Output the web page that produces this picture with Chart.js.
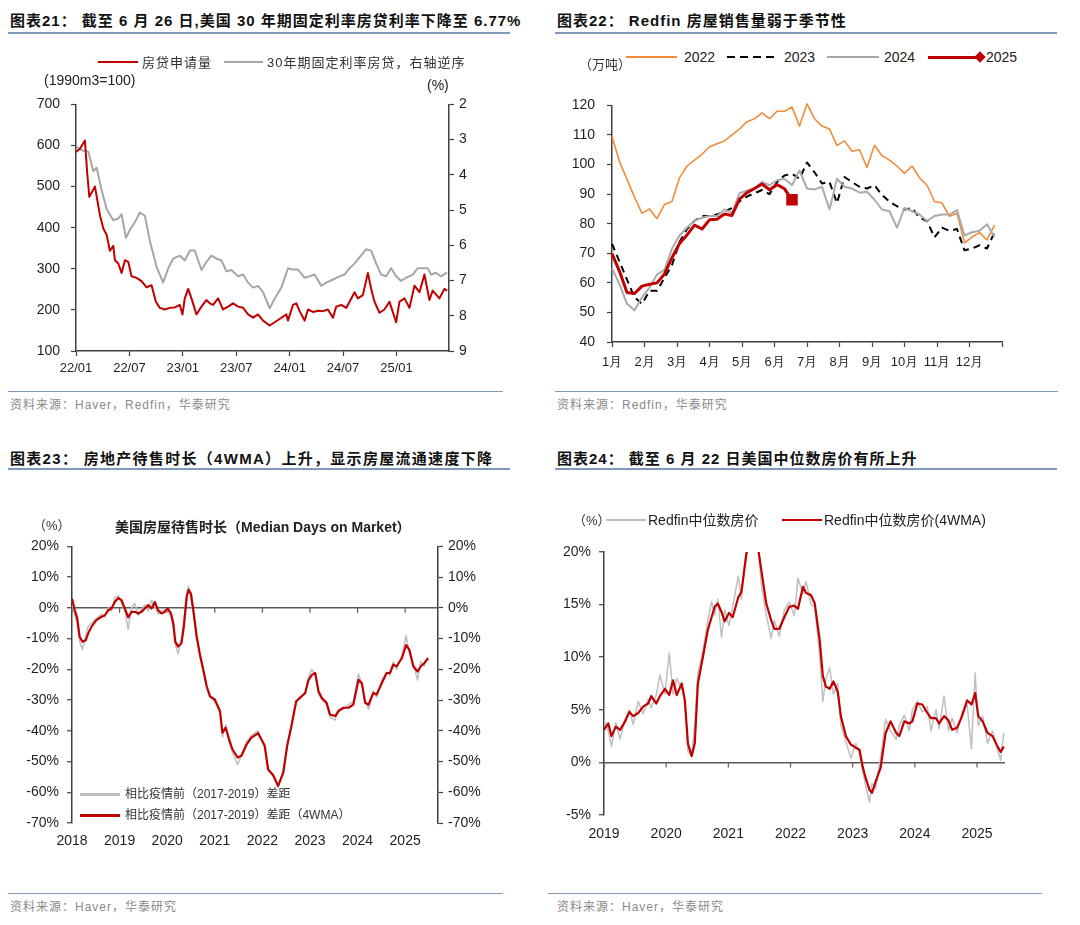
<!DOCTYPE html>
<html>
<head>
<meta charset="utf-8">
<script src="https://cdn.jsdelivr.net/npm/chart.js@4.4.1/dist/chart.umd.min.js"></script>
<style>
  body { margin: 0; width: 1080px; height: 925px; background: #fff; position: relative; overflow: hidden;
         font-family: "Liberation Sans", "Noto Sans CJK SC", sans-serif; color: #222; }
  .t { position: absolute; white-space: nowrap; line-height: 1; }
  .title { font-weight: bold; font-size: 15px; letter-spacing: 1px; color: #111; }
  .rule { position: absolute; height: 2px; background: #8099bb; }
  .srule { position: absolute; height: 1px; background: #8099bb; }
  .src { font-size: 12px; color: #8a8a8a; letter-spacing: 1px; }
  .lg { font-size: 13px; color: #333; }
  .ln { position: absolute; height: 2px; }
  canvas { position: absolute; }
</style>
</head>
<body>
<canvas id="c1" width="540" height="300" style="left:0;top:85px"></canvas>
<canvas id="c2" width="540" height="300" style="left:540px;top:85px"></canvas>
<canvas id="c3" width="540" height="330" style="left:0;top:530px"></canvas>
<canvas id="c4" width="540" height="320" style="left:540px;top:530px"></canvas>

<!-- panel 21 -->
<div class="t title" style="left:10px;top:13px">图表21：&nbsp;截至 6 月 26 日,美国 30 年期固定利率房贷利率下降至 6.77%</div>
<div class="rule" style="left:8px;top:32px;width:502px"></div>
<div class="ln" style="left:98px;top:61px;width:40px;background:#C00000"></div>
<div class="t lg" style="left:142px;top:56px;letter-spacing:1px">房贷申请量</div>
<div class="ln" style="left:224px;top:61px;width:39px;background:#A6A6A6"></div>
<div class="t lg" style="left:267px;top:56px;letter-spacing:1px">30年期固定利率房贷，右轴逆序</div>
<div class="t" style="left:44px;top:73px;font-size:14px">(1990m3=100)</div>
<div class="t" style="left:427px;top:78px;font-size:14px">(%)</div>
<div class="srule" style="left:8px;top:391px;width:495px"></div>
<div class="t src" style="left:10px;top:399px">资料来源：Haver，Redfin，华泰研究</div>

<!-- panel 22 -->
<div class="t title" style="left:557px;top:13px">图表22：&nbsp;Redfin 房屋销售量弱于季节性</div>
<div class="rule" style="left:555px;top:32px;width:502px"></div>
<div class="ln" style="left:626px;top:56px;width:51px;background:#F08C3C"></div>
<div class="t" style="left:684px;top:50px;font-size:14px">2022</div>
<div class="ln" style="left:727px;top:56px;width:50px;background:repeating-linear-gradient(90deg,#000 0 8px,transparent 8px 13px)"></div>
<div class="t" style="left:784px;top:50px;font-size:14px">2023</div>
<div class="ln" style="left:827px;top:56px;width:52px;background:#A6A6A6"></div>
<div class="t" style="left:884px;top:50px;font-size:14px">2024</div>
<div class="ln" style="left:928px;top:56px;width:52px;height:3px;background:#C00000"></div>
<div style="position:absolute;left:976px;top:53px;width:8px;height:8px;background:#C00000;transform:rotate(45deg)"></div>
<div class="t" style="left:986px;top:50px;font-size:14px">2025</div>
<div class="t lg" style="left:579px;top:58px">（万吨）</div>
<div class="srule" style="left:555px;top:391px;width:503px"></div>
<div class="t src" style="left:557px;top:399px">资料来源：Redfin，华泰研究</div>

<!-- panel 23 -->
<div class="t title" style="left:10px;top:451px;letter-spacing:1.3px">图表23：&nbsp;房地产待售时长（4WMA）上升，显示房屋流通速度下降</div>
<div class="rule" style="left:8px;top:468px;width:502px"></div>
<div class="t lg" style="left:33px;top:519px">（%）</div>
<div class="t" style="left:115px;top:520px;font-size:14px;font-weight:bold">美国房屋待售时长（Median Days on Market）</div>
<div class="ln" style="left:80px;top:793px;width:40px;height:2.5px;background:#BFBFBF"></div>
<div class="t" style="left:125px;top:788px;font-size:12px;color:#333">相比疫情前（2017-2019）差距</div>
<div class="ln" style="left:80px;top:814px;width:40px;height:2.5px;background:#C00000"></div>
<div class="t" style="left:125px;top:809px;font-size:12px;color:#333">相比疫情前（2017-2019）差距（4WMA）</div>
<div class="srule" style="left:8px;top:893px;width:495px"></div>
<div class="t src" style="left:10px;top:901px">资料来源：Haver，华泰研究</div>

<!-- panel 24 -->
<div class="t title" style="left:557px;top:451px">图表24：&nbsp;截至 6 月 22 日美国中位数房价有所上升</div>
<div class="rule" style="left:555px;top:468px;width:502px"></div>
<div class="t lg" style="left:573px;top:514px">（%）</div>
<div class="ln" style="left:606px;top:519px;width:40px;background:#BFBFBF"></div>
<div class="t" style="left:648px;top:513px;font-size:14px">Redfin中位数房价</div>
<div class="ln" style="left:782px;top:519px;width:40px;background:#C00000"></div>
<div class="t" style="left:824px;top:513px;font-size:14px">Redfin中位数房价(4WMA)</div>
<div class="srule" style="left:548px;top:893px;width:494px"></div>
<div class="t src" style="left:557px;top:901px">资料来源：Haver，华泰研究</div>

<script>
// --- chart 21: mortgage applications vs 30y fixed rate (x = months since 2022-01)
const c1Labels = ['22/01', '22/07', '23/01', '23/07', '24/01', '24/07', '25/01'];
const appMonth = [0, 0.45, 1, 1.27, 1.5, 2.13, 2.69, 3.07, 3.44, 3.81, 4.19, 4.37, 4.75, 5.12, 5.5, 5.87, 6.24, 6.8, 7.36, 7.93,
  8.49, 8.97, 9.42, 9.98, 10.54, 11.1, 11.66, 11.96, 12.22, 12.6, 12.97, 13.53, 14.09, 14.65, 15.03, 15.4, 15.96, 16.52, 17.08, 17.64,
  18.21, 18.77, 19.33, 19.89, 20.45, 21.01, 21.76, 22.32, 23.07, 23.63, 23.81, 24.37, 24.75, 25.12, 25.68, 26.06, 26.62, 27.18, 27.74, 28.3,
  28.86, 29.23, 29.79, 30.36, 30.73, 31.29, 31.66, 32.22, 32.79, 33.16, 33.53, 34.09, 34.65, 35.21, 35.96, 36.34, 36.9, 37.46, 38.02, 38.58,
  39.14, 39.7, 40.07, 40.82, 41.38, 41.68];
const appIndex = [584, 592, 612, 530, 475, 500, 430, 398, 383, 344, 356, 321, 313, 290, 321, 317, 282, 278, 270, 255,
  260, 220, 205, 201, 205, 206, 212, 189, 228, 251, 228, 189, 208, 224, 216, 212, 228, 201, 208, 216,
  208, 205, 189, 181, 189, 174, 162, 170, 181, 189, 174, 212, 216, 197, 174, 201, 195, 198, 197, 201,
  181, 208, 212, 205, 220, 243, 228, 236, 290, 251, 220, 193, 201, 220, 170, 220, 228, 205, 259, 243,
  286, 224, 247, 228, 251, 247];
const rateMonth = [0, 0.64, 1.38, 1.94, 2.32, 2.88, 3.44, 4.19, 4.75, 5.12, 5.61, 6.06, 6.62, 7.18, 7.74, 8.3, 9.05, 9.79, 10.36, 10.92,
  11.66, 12.22, 12.79, 13.35, 14.09, 14.65, 15.21, 15.78, 16.34, 16.9, 17.46, 18.21, 18.77, 19.33, 19.89, 20.45, 21.01, 21.76, 22.32, 23.07,
  23.81, 24.37, 24.93, 25.68, 26.24, 26.8, 27.55, 28.11, 28.86, 29.61, 30.17, 30.73, 31.29, 31.85, 32.6, 33.16, 33.72, 34.28, 34.84, 35.4,
  35.96, 36.52, 37.08, 37.83, 38.39, 38.95, 39.51, 39.89, 40.45, 41.01, 41.68];
const rateValue = [3.2, 3.3, 3.34, 3.89, 3.8, 4.43, 4.97, 5.29, 5.24, 5.11, 5.79, 5.56, 5.34, 5.07, 5.16, 5.88, 6.61, 7.06, 6.65, 6.38,
  6.29, 6.43, 6.15, 6.15, 6.7, 6.47, 6.29, 6.38, 6.43, 6.74, 6.7, 6.88, 6.83, 7.06, 7.2, 7.15, 7.33, 7.79, 7.51, 7.2,
  6.65, 6.69, 6.69, 6.92, 6.88, 6.83, 7.15, 7.06, 6.97, 6.88, 6.83, 6.65, 6.52, 6.34, 6.11, 6.15, 6.52, 6.83, 6.88, 6.65,
  6.88, 7.01, 6.92, 6.83, 6.65, 6.65, 6.65, 6.83, 6.78, 6.88, 6.77];

// --- chart 22: Redfin weekly sales by year (one value per week)
const monthLabels = ['1月', '2月', '3月', '4月', '5月', '6月', '7月', '8月', '9月', '10月', '11月', '12月'];
const sales2022 = [109.5, 101, 95, 89, 83.5, 85, 81.7, 86.5, 87.5, 95.5, 99.5, 101.5, 103.5, 106, 107, 108, 110, 112, 114.5, 115.5,
  117.5, 115.5, 118, 118, 119.5, 113, 120.5, 115.5, 113, 112, 106.5, 108, 104.5, 105, 99, 106.5, 103, 101.5, 99.5, 97,
  99.5, 95.5, 93, 87.5, 87, 82.5, 83.5, 73.5, 75.5, 77, 74.5, 79.5];
const sales2023 = [73.2, 67.2, 61.1, 55.1, 52.9, 57.3, 57.3, 61.7, 66, 73.8, 78.2, 81, 82.6, 82.6, 83.1, 84.2, 85.3, 87.5, 89.2, 90.3,
  91.4, 90, 94.1, 96.3, 96.9, 95.2, 100.7, 97.4, 93.6, 94.1, 87, 95.8, 94.1, 92.5, 91.9, 93, 89.7, 87.5, 85.9, 84.8,
  85.3, 82, 80.9, 75.4, 78.7, 77.6, 78.2, 71, 71.6, 72.7, 71.6, 77.1];
const sales2024 = [65, 59.5, 52.9, 50.7, 55.1, 58.4, 62.8, 64.4, 71.6, 76, 78.7, 81, 82, 82.6, 82.6, 84.8, 83.7, 90.3, 91.2, 91.9,
  94.1, 93, 94.7, 95.2, 93, 98, 91.9, 91.6, 92.5, 84.8, 95.2, 92.5, 91.9, 90.5, 90.8, 88.1, 84.8, 84.2, 78.7, 85.3,
  84.2, 83.1, 80.9, 82.6, 83.1, 83.1, 84.6, 76, 77.1, 77.6, 79.8, 75.4];
const sales2025 = [69.9, 63.9, 56.7, 56.4, 58.9, 59.5, 60, 63, 68.5, 73.3, 76.2, 79.5, 78.2, 81.3, 81.5, 83.3, 82.8, 88.3, 90.5, 91.9,
  93.4, 91.5, 93.2, 91.8, 88.1];

// --- chart 23: median days on market vs 2017-2019 (x = year)
const domYear = [2018, 2018.06, 2018.11, 2018.16, 2018.22, 2018.29, 2018.34, 2018.41, 2018.51, 2018.62, 2018.69, 2018.76, 2018.83, 2018.9, 2018.97,
  2019.04, 2019.11, 2019.18, 2019.25, 2019.32, 2019.39, 2019.46, 2019.53, 2019.6, 2019.67, 2019.74, 2019.81, 2019.88, 2019.95,
  2020.01, 2020.08, 2020.13, 2020.17, 2020.23, 2020.3, 2020.35, 2020.41, 2020.45, 2020.5, 2020.55, 2020.62, 2020.69, 2020.76, 2020.83, 2020.9,
  2021, 2021.11, 2021.16, 2021.23, 2021.3, 2021.37, 2021.48, 2021.56, 2021.67, 2021.77, 2021.91,
  2022.05, 2022.12, 2022.23, 2022.33, 2022.44, 2022.52, 2022.61, 2022.71, 2022.79, 2022.9, 2022.97,
  2023.04, 2023.11, 2023.18, 2023.25, 2023.35, 2023.42, 2023.53, 2023.6, 2023.7, 2023.81, 2023.91,
  2024.02, 2024.09, 2024.16, 2024.23, 2024.33, 2024.4, 2024.51, 2024.61, 2024.68, 2024.75, 2024.82, 2024.93,
  2025.02, 2025.09, 2025.17, 2025.26, 2025.33, 2025.4, 2025.48];
const domGap = [2, -2.5, -5, -11, -13.5, -9, -6, -5, -3.5, -2, -3, 0, -1, 3.5, 4,
  1.5, -1, -7, 0, 1.5, -2.5, -0.5, 1, -1, 2.5, 0.5, -2, -1, -0.5,
  -1, -3, -7, -12, -15, -10, -4, 5, 7, 3, -2, -10, -16, -21, -26, -29,
  -30.5, -34, -42, -38, -43.5, -47, -51, -48, -43.5, -41.5, -40,
  -45.5, -53, -54, -58.5, -52.5, -45.5, -38, -31, -29, -28, -22.5,
  -20, -22, -28, -30, -31.5, -35.5, -36.5, -33, -33, -31.5, -30.5,
  -21.5, -25, -30, -33, -27, -29, -23.5, -21, -22, -17.5, -20, -15.5,
  -9, -15, -18, -23.5, -17.5, -19, -16];
const domGap4w = [3, -0.8, -3.4, -9.4, -11, -10.5, -8.3, -6.1, -4, -2.9, -2.4, -0.8, -0.2, 1.9, 3.2,
  2.5, -0.2, -3.1, -1.3, -1.3, -1.8, -1.3, -0.2, 0.9, -0.2, 1.9, -0.8, -1.8, -1.3,
  -0.2, -1.8, -5.1, -11, -12.6, -11.5, -6.1, 3.6, 5.9, 4.6, -0.8, -9.4, -15.3, -20.2, -25.5, -28.8,
  -29.8, -33.6, -40.6, -39, -42.8, -46, -48.7, -48.1, -44.4, -42.2, -40.8,
  -44.9, -52.5, -54.6, -57.9, -53.6, -44.9, -38.5, -30.4, -29.3, -27.7, -23.4,
  -21.8, -21.2, -27.2, -29.3, -30.9, -34.7, -35.2, -33.6, -32.5, -32.5, -31.5,
  -23.4, -24.5, -30.9, -31.5, -27.7, -28.2, -24.5, -21.2, -21.2, -18.5, -19, -16.4,
  -12.1, -13.7, -19, -20.7, -19, -18, -16.4];

// --- chart 24: Redfin median sale price yoy (x = year)
const priceYear = [2019, 2019.07, 2019.12, 2019.19, 2019.26, 2019.34, 2019.41, 2019.47, 2019.55, 2019.63, 2019.71, 2019.76, 2019.84, 2019.9, 2019.98,
  2020.05, 2020.11, 2020.17, 2020.25, 2020.3, 2020.35, 2020.41, 2020.46, 2020.51, 2020.59, 2020.67, 2020.73, 2020.78, 2020.83, 2020.89, 2020.94,
  2021.01, 2021.07, 2021.16, 2021.21, 2021.29, 2021.33, 2021.4, 2021.48, 2021.53, 2021.61, 2021.69, 2021.74, 2021.82, 2021.9, 2021.98,
  2022.06, 2022.12, 2022.2, 2022.25, 2022.33, 2022.39, 2022.47, 2022.52, 2022.57, 2022.63, 2022.69, 2022.76, 2022.81, 2022.89, 2022.97,
  2023.05, 2023.11, 2023.16, 2023.21, 2023.27, 2023.31, 2023.37, 2023.45, 2023.53, 2023.61, 2023.7, 2023.75, 2023.83, 2023.91, 2023.96,
  2024.04, 2024.12, 2024.2, 2024.26, 2024.34, 2024.39, 2024.47, 2024.54, 2024.6, 2024.68, 2024.76, 2024.84, 2024.91, 2024.97,
  2025.02, 2025.09, 2025.17, 2025.25, 2025.33, 2025.38, 2025.43];
const priceYoY = [4, 3, 1.5, 3.8, 2.2, 4.2, 5, 3.6, 5.8, 4.6, 6, 5.2, 6.4, 8.3, 6.5,
  10.4, 6.5, 8, 7, 6, 1, 0.7, 3.5, 8.5, 10.5, 13.5, 15.3, 14, 15.5, 11.9, 14.5,
  13, 14.8, 17.7, 15.5, 20.5, 21.5, 22, 20.5, 17, 14, 11.8, 13.5, 12, 14.5, 15.2,
  14, 17.5, 16, 17.2, 15, 14.8, 10, 5.8, 8, 9, 6.5, 7.5, 3.5, 2, 0.4,
  1.8, 0.8, -0.8, -2.2, -3.8, -2, -2.5, 0.5, 4.1, 3, 2.2, 3.5, 4.5, 3, 5,
  5.8, 4.8, 5.3, 3, 5, 3.2, 6.3, 3, 4.2, 2.8, 4.8, 5.5, 1.3, 8.5,
  3.5, 4.4, 1.8, 3, 1.2, 0.2, 2.8];
const priceYoY4w = [3.1, 3.7, 2.5, 3.4, 3.1, 3.9, 4.8, 4.4, 4.7, 5.3, 5.6, 6.3, 5.6, 6.3, 7,
  6.4, 7.8, 6.4, 7.5, 5.9, 1.8, 0.6, 1.8, 7.5, 10, 12.6, 13.8, 14.8, 15.1, 14.3, 13.4,
  14.2, 13.8, 15.7, 16.2, 19.8, 20.8, 21.4, 20.3, 18.3, 15.1, 13.5, 12.7, 12.7, 13.8, 14.8,
  14.9, 14.6, 16.7, 16.1, 15.9, 15.1, 11.6, 8.2, 7.2, 7, 7.7, 6.7, 4.4, 2.5, 1.7,
  1.4, 1.2, -0.4, -1.5, -2.6, -2.9, -1.8, -0.5, 2.8, 3.9, 2.8, 2.5, 3.9, 3.7, 3.9,
  5.6, 5.5, 4.7, 4.2, 4.2, 3.7, 4.4, 4, 3.1, 3.3, 4.4, 5.9, 5.5, 6.6,
  4.4, 3.9, 2.8, 2.5, 1.5, 1, 1.5];

const AX = '#404040';
const TXT = '#1f1f1f';
const NUM = "'Liberation Sans', Arial, sans-serif";
const RED = '#C00000';

const pts = (xs, ys) => xs.map((x, i) => ({ x, y: ys[i] }));
const weekly = ys => ys.map((y, i) => ({ x: i * 12 / 52, y }));
const fixW = w => s => { s.width = w; };
const fixH = h => s => { s.height = h; };

const base = {
  responsive: false,
  animation: false,
  events: [],
  plugins: { legend: { display: false }, tooltip: { enabled: false } },
  elements: { point: { radius: 0 }, line: { tension: 0, borderJoinStyle: 'round' } }
};

// small outward ticks on an axis, no grid in the plot
const axisGrid = { drawOnChartArea: false, tickLength: 5, tickColor: AX, tickWidth: 1.2 };
const zeroGrid = {
  drawOnChartArea: true, tickLength: 5, tickColor: AX, tickWidth: 1.2, lineWidth: 1.5,
  color: c => (c.tick && c.tick.value === 0 ? '#5a5a5a' : 'rgba(0,0,0,0)')
};

// year ticks hanging under the 0% line (charts 23 and 24)
const zeroTicks = {
  id: 'zeroTicks',
  beforeDatasetsDraw(chart) {
    const { ctx, scales: { x, y } } = chart;
    const y0 = y.getPixelForValue(0);
    ctx.save();
    ctx.strokeStyle = '#5a5a5a';
    ctx.lineWidth = 1.2;
    x.ticks.forEach(t => {
      const px = x.getPixelForValue(t.value);
      ctx.beginPath();
      ctx.moveTo(px, y0);
      ctx.lineTo(px, y0 + 5);
      ctx.stroke();
    });
    ctx.restore();
  }
};

new Chart(document.getElementById('c1'), {
  type: 'line',
  data: {
    datasets: [
      { data: pts(appMonth, appIndex), borderColor: RED, borderWidth: 2, yAxisID: 'y' },
      { data: pts(rateMonth, rateValue), borderColor: '#A6A6A6', borderWidth: 2, yAxisID: 'y2' }
    ]
  },
  options: {
    ...base,
    layout: { padding: { top: 8 } },
    scales: {
      x: {
        type: 'linear', min: 0, max: 41.9, afterFit: fixH(34),
        border: { color: AX, width: 1.5 }, grid: axisGrid,
        ticks: { stepSize: 6, includeBounds: false, padding: 5, maxRotation: 0, autoSkip: false, color: TXT,
          font: { family: NUM, size: 13 }, callback: v => c1Labels[Math.round(v / 6)] || '' }
      },
      y: {
        position: 'left', min: 100, max: 700, afterFit: fixW(76),
        border: { color: AX, width: 1.5 }, grid: axisGrid,
        ticks: { stepSize: 100, padding: 11, color: TXT, font: { family: NUM, size: 14 } }
      },
      y2: {
        position: 'right', reverse: true, min: 2, max: 9, afterFit: fixW(91),
        border: { color: AX, width: 1.5 }, grid: axisGrid,
        ticks: { stepSize: 1, padding: 5, color: TXT, font: { family: NUM, size: 14 } }
      }
    }
  }
});

new Chart(document.getElementById('c2'), {
  type: 'line',
  data: {
    datasets: [
      { data: weekly(sales2025), borderColor: RED, borderWidth: 3, backgroundColor: RED, pointStyle: 'rect',
        pointRadius: sales2025.map((_, i) => (i === sales2025.length - 1 ? 6 : 0)), clip: false },
      { data: weekly(sales2024), borderColor: '#ABABAB', borderWidth: 2, clip: false },
      { data: weekly(sales2023), borderColor: '#000', borderWidth: 2, borderDash: [7, 5], clip: false },
      { data: weekly(sales2022), borderColor: '#F08C3C', borderWidth: 1.6, clip: false }
    ]
  },
  options: {
    ...base,
    layout: { padding: { top: 15, right: 78 } },
    scales: {
      x: {
        type: 'linear', min: 0, max: 12, afterFit: fixH(43),
        border: { color: AX, width: 1.5 }, grid: axisGrid,
        ticks: { stepSize: 1, padding: 8, maxRotation: 0, autoSkip: false, color: TXT,
          font: { family: NUM, size: 13 }, callback: v => monthLabels[Math.round(v)] || '' }
      },
      y: {
        min: 40, max: 120, afterFit: fixW(72),
        border: { color: AX, width: 1.5 }, grid: axisGrid,
        ticks: { stepSize: 10, padding: 12, color: TXT, font: { family: NUM, size: 14 } }
      }
    }
  }
});

new Chart(document.getElementById('c3'), {
  type: 'line',
  data: {
    datasets: [
      { data: pts(domYear, domGap4w), borderColor: RED, borderWidth: 2.2 },
      { data: pts(domYear, domGap), borderColor: '#BFBFBF', borderWidth: 1.5 }
    ]
  },
  options: {
    ...base,
    layout: { padding: { top: 16 } },
    scales: {
      x: {
        type: 'linear', min: 2018, max: 2025.69, afterFit: fixH(37),
        border: { display: false }, grid: { display: false },
        ticks: { stepSize: 1, includeBounds: false, padding: 2, maxRotation: 0, autoSkip: false, color: TXT,
          font: { family: NUM, size: 14 }, callback: v => String(v) }
      },
      y: {
        position: 'left', min: -70, max: 20, afterFit: fixW(72),
        border: { color: AX, width: 1.5 }, grid: zeroGrid,
        ticks: { stepSize: 10, padding: 8, color: TXT, font: { family: NUM, size: 14 }, callback: v => v + '%' }
      },
      y2: {
        position: 'right', min: -70, max: 20, afterFit: fixW(102),
        border: { color: AX, width: 1.5 }, grid: axisGrid,
        ticks: { stepSize: 10, padding: 5, color: TXT, font: { family: NUM, size: 14 }, callback: v => v + '%' }
      }
    }
  },
  plugins: [zeroTicks]
});

new Chart(document.getElementById('c4'), {
  type: 'line',
  data: {
    datasets: [
      { data: pts(priceYear, priceYoY4w), borderColor: RED, borderWidth: 2.2 },
      { data: pts(priceYear, priceYoY), borderColor: '#BFBFBF', borderWidth: 1.5 }
    ]
  },
  options: {
    ...base,
    layout: { padding: { top: 22, right: 75 } },
    scales: {
      x: {
        type: 'linear', min: 2019, max: 2025.45, afterFit: fixH(35),
        border: { display: false }, grid: { display: false },
        ticks: { stepSize: 1, includeBounds: false, padding: 3, maxRotation: 0, autoSkip: false, color: TXT,
          font: { family: NUM, size: 14 }, callback: v => String(v) }
      },
      y: {
        min: -5, max: 20, afterFit: fixW(64),
        border: { color: AX, width: 1.5 }, grid: zeroGrid,
        ticks: { stepSize: 5, padding: 8, color: TXT, font: { family: NUM, size: 14 }, callback: v => v + '%' }
      }
    }
  },
  plugins: [zeroTicks]
});
</script>
</body>
</html>
